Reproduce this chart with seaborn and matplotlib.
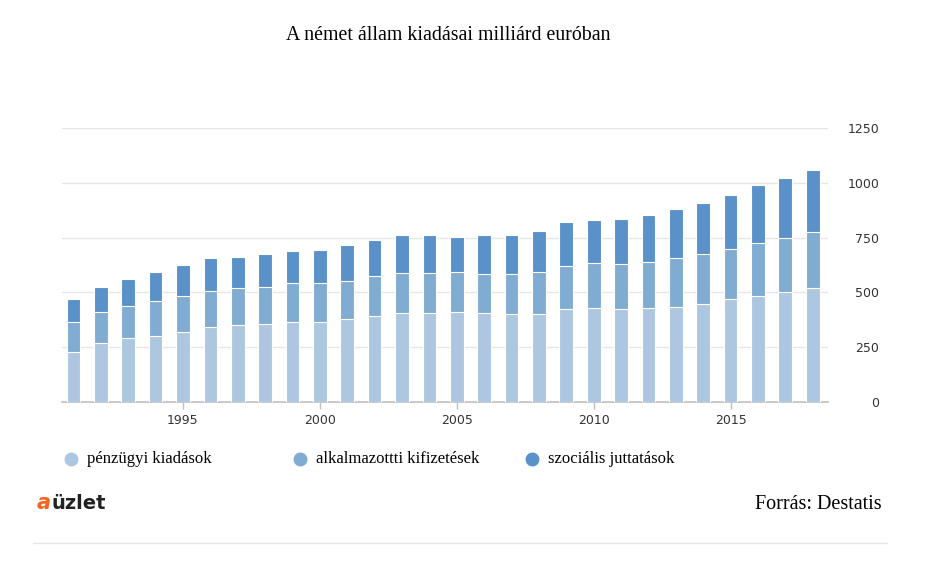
import pandas as pd
import matplotlib.pyplot as plt
from matplotlib.lines import Line2D
import seaborn as sns

years = list(range(1991, 2019))
# kiadások milliárd euróban
penzugyi = [229, 267, 290, 303, 321, 343, 349, 358, 367, 367, 380, 394, 408, 408,
            411, 404, 401, 401, 424, 428, 424, 428, 433, 446, 469, 483, 501, 520]
alkalmazotti = [138, 144, 150, 159, 164, 165, 171, 166, 176, 176, 173, 182, 180, 180,
                182, 182, 182, 191, 195, 205, 204, 209, 222, 228, 227, 241, 246, 255]
szocialis = [103, 113, 119, 131, 142, 147, 141, 149, 147, 152, 165, 165, 172, 172,
             162, 176, 179, 186, 200, 197, 208, 215, 226, 235, 247, 265, 277, 282]
series_names = ["pénzügyi kiadások", "alkalmazottti kifizetések", "szociális juttatások"]
colors = ["#adc7e1", "#80acd2", "#5a91c9"]

df = pd.DataFrame({"year": years, "p": penzugyi, "a": alkalmazotti, "s": szocialis})
df["lvl1"] = df["p"]
df["lvl2"] = df["p"] + df["a"]
df["lvl3"] = df["lvl2"] + df["s"]

sns.set_style("white")
fig = plt.figure(figsize=(9.46, 5.68), dpi=100)
ax = fig.add_axes([0.0655, 0.2923, 0.8095, 0.4823])

# stacked bars: draw cumulative totals from the top layer down
for col, c in zip(["lvl3", "lvl2", "lvl1"], colors[::-1]):
    sns.barplot(data=df, x="year", y=col, native_scale=True, color=c, width=0.5,
                edgecolor="white", linewidth=0.8, saturation=1, ax=ax, zorder=3)

ax.set_xlim(1990.58, 2018.55)
ax.set_ylim(0, 1250)
ax.set_yticks(range(0, 1251, 250))
ax.set_xticks([1995, 2000, 2005, 2010, 2015])
ax.set_xlabel("")
ax.set_ylabel("")
ax.grid(axis="y", color="#e6e6e6", linewidth=1, zorder=0)
ax.grid(axis="x", visible=False)
for s in ["top", "left", "right"]:
    ax.spines[s].set_visible(False)
ax.spines["bottom"].set_color("#c0c0c0")
ax.spines["bottom"].set_linewidth(1.2)

ax.yaxis.tick_right()
ax.tick_params(axis="y", length=0, pad=37, labelsize=9, labelcolor="#333333")
for lbl in ax.get_yticklabels():
    lbl.set_horizontalalignment("right")
ax.tick_params(axis="x", bottom=True, length=5, width=1, color="#c0c0c0",
               labelsize=9, labelcolor="#333333", pad=4)

serif = "Liberation Serif"
fig.text(0.4736, 0.937, "A német állam kiadásai milliárd euróban", ha="center", va="center",
         fontsize=14.3, family=serif, color="black")

# legend
leg_y = 0.192
for xm, name, c in zip([0.075, 0.317, 0.562], series_names, colors):
    fig.add_artist(Line2D([xm], [leg_y], marker="o", markersize=9, color=c,
                          linestyle="none", transform=fig.transFigure))
    fig.text(xm + 0.017, leg_y, name, ha="left", va="center", fontsize=12,
             family=serif, color="black")

# logo & source
fig.text(0.039, 0.114, "a", ha="left", va="center", fontsize=15, weight="bold",
         style="italic", color="#f26522", family="DejaVu Sans")
fig.text(0.054, 0.114, "üzlet", ha="left", va="center", fontsize=14, weight="bold",
         color="#222222", family="DejaVu Sans")
fig.text(0.932, 0.111, "Forrás: Destatis", ha="right", va="center", fontsize=14.5,
         family=serif, color="black")

fig.add_artist(Line2D([0.035, 0.938], [0.044, 0.044], color="#e6e6e6", linewidth=1,
                      transform=fig.transFigure))

fig.savefig("out.png", dpi=100, facecolor="white")
